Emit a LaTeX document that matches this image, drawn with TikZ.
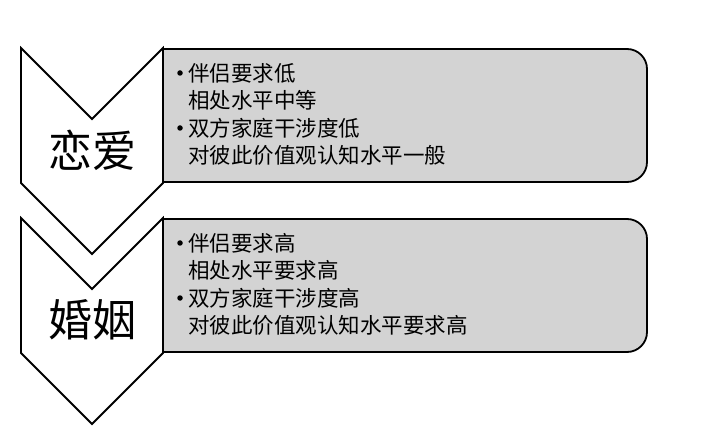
\documentclass[tikz,border=0pt]{standalone}
\usepackage{fontspec}
\newfontfamily\cjk{Noto Sans CJK SC}
\definecolor{boxgray}{RGB}{211,211,211}
\begin{document}
\begin{tikzpicture}[x=1pt,y=1pt,
  shapeline/.style={draw=black,line width=1.8pt,line join=miter},
  item/.style={anchor=west,inner sep=0pt,font=\cjk\fontsize{21.5}{24}\selectfont},
  dotmark/.style={circle,fill=black,inner sep=0pt,minimum size=5.5pt},
  biglabel/.style={anchor=center,inner sep=0pt,font=\cjk\fontsize{44}{48}\selectfont}]
\useasboundingbox (0,0) rectangle (720,445);
% boxes
\draw[shapeline,fill=boxgray] (163,263) -- (163,396) -- (627,396) arc[start angle=90,end angle=0,radius=20] -- (647,283) arc[start angle=0,end angle=-90,radius=20] -- cycle;
\draw[shapeline,fill=boxgray] (163,93) -- (163,226) -- (627,226) arc[start angle=90,end angle=0,radius=20] -- (647,113) arc[start angle=0,end angle=-90,radius=20] -- cycle;
% chevrons
\draw[shapeline,fill=white] (21,397) -- (92,326) -- (163,397) -- (163,262) -- (92,191) -- (21,262) -- cycle;
\draw[shapeline,fill=white] (21,227) -- (92,156) -- (163,227) -- (163,92) -- (92,21) -- (21,92) -- cycle;
% labels
\node[biglabel] (l1) at (92,295) {恋爱};
\node[biglabel] (l2) at (92,125) {婚姻};
% box 1 text
\node[dotmark] (b11) at (180,372) {};
\node[item] (t11) at (188,372) {伴侣要求低};
\node[item] (t12) at (188,345) {相处水平中等};
\node[dotmark] (b12) at (180,317) {};
\node[item] (t13) at (188,317) {双方家庭干涉度低};
\node[item] (t14) at (188,290) {对彼此价值观认知水平一般};
% box 2 text
\node[dotmark] (b21) at (180,202) {};
\node[item] (t21) at (188,202) {伴侣要求高};
\node[item] (t22) at (188,175) {相处水平要求高};
\node[dotmark] (b22) at (180,147) {};
\node[item] (t23) at (188,147) {双方家庭干涉度高};
\node[item] (t24) at (188,120) {对彼此价值观认知水平要求高};
\end{tikzpicture}
\end{document}
